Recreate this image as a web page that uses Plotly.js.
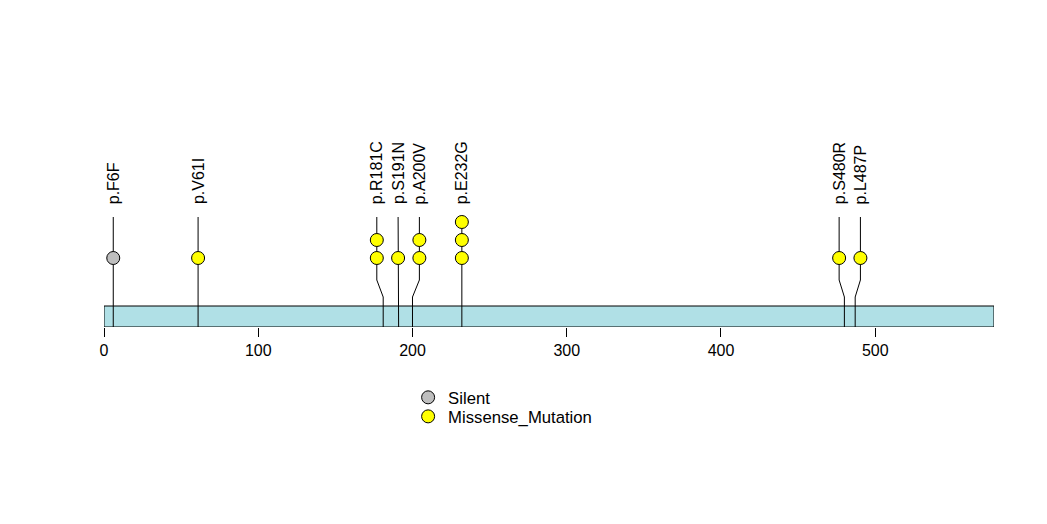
<!DOCTYPE html>
<html><head><meta charset="utf-8">
<script src="https://cdn.plot.ly/plotly-3.0.1.min.js"></script>
<style>html,body{margin:0;padding:0;background:#fff}#chart{width:1047px;height:524px}</style>
</head><body><div id="chart"></div>
<script>
// ---- data ----
const proteinLength = 577;
const mutLabels = ["p.F6F","p.V61I","p.R181C","p.S191N","p.A200V","p.E232G","p.S480R","p.L487P"];
const mutPositions = [6, 61, 181, 191, 200, 232, 480, 487];
const mutCounts = [1, 1, 2, 1, 2, 3, 1, 1];
const mutTypes = ["Silent","Missense_Mutation","Missense_Mutation","Missense_Mutation","Missense_Mutation","Missense_Mutation","Missense_Mutation","Missense_Mutation"];
const legendTypes = ["Silent","Missense_Mutation"];
const tickValues = [0, 100, 200, 300, 400, 500];

// ---- style ----
const typeColors = {Silent:"#BEBEBE", Missense_Mutation:"#FFFF00"};
const barColor = "#B0E0E6";
const geo = {barBottom:-2.833, barTop:-1.667, bendStart:-1.167, bendEnd:-0.222, stemTop:3.278, labelBase:3.889};
const minGap = 13.8;
const FONT = "Liberation Sans, Arial, sans-serif";

// repel label positions
function layoutPositions(pos){
  const idx = pos.map((p,i)=>i).sort((a,b)=>pos[a]-pos[b]);
  let clusters = idx.map(i=>({members:[i], center:pos[i]}));
  let changed = true;
  while(changed){
    changed = false;
    for(let k=0;k<clusters.length-1;k++){
      const a=clusters[k], b=clusters[k+1];
      const aEnd = a.center + (a.members.length-1)*minGap/2;
      const bStart = b.center - (b.members.length-1)*minGap/2;
      if(bStart - aEnd < minGap){
        const m = a.members.concat(b.members);
        const c = m.reduce((s,i)=>s+pos[i],0)/m.length;
        clusters.splice(k,2,{members:m, center:c});
        changed = true; break;
      }
    }
  }
  const out = new Array(pos.length);
  clusters.forEach(c=>{
    const n=c.members.length;
    c.members.forEach((i,j)=>{ out[i] = c.center + (j-(n-1)/2)*minGap; });
  });
  return out;
}
const disp = layoutPositions(mutPositions);

const traces = [];
// stems
mutPositions.forEach((p,i)=>{
  traces.push({type:'scatter', mode:'lines', x:[p,p,disp[i],disp[i]],
    y:[geo.barBottom, geo.bendStart, geo.bendEnd, geo.stemTop],
    line:{color:'#000', width:1}, hoverinfo:'skip', showlegend:false});
});
// heads by type
const legendIds = ['legend','legend2'];
legendTypes.forEach((t,ti)=>{
  const xs=[], ys=[];
  mutPositions.forEach((p,i)=>{
    if(mutTypes[i]!==t) return;
    for(let k=1;k<=mutCounts[i];k++){ xs.push(disp[i]); ys.push(k); }
  });
  traces.push({type:'scatter', mode:'markers', name:t, x:xs, y:ys, legend:legendIds[ti],
    marker:{size:13, color:typeColors[t], line:{color:'#000', width:1}},
    hoverinfo:'skip', showlegend:true, cliponaxis:false});
});

const annotations = mutLabels.map((lab,i)=>({
  x:disp[i], y:geo.labelBase, xref:'x', yref:'y', text:lab, showarrow:false,
  textangle:-90, xanchor:'center', yanchor:'bottom',
  font:{family:FONT, size:16, color:'#000'}
}));

const legendBase = {xanchor:'left', yanchor:'top', orientation:'v',
  font:{family:FONT, size:16.7, color:'#000'}, bgcolor:'rgba(0,0,0,0)', itemsizing:'trace'};

const layout = {
  width:1047, height:524,
  margin:{l:104, r:53, t:0, b:197, pad:0},
  paper_bgcolor:'#fff', plot_bgcolor:'#fff',
  showlegend:true,
  legend:Object.assign({x:0.3417, y:-0.162}, legendBase),
  legend2:Object.assign({x:0.3417, y:-0.2202}, legendBase),
  xaxis:{range:[0, proteinLength], tickvals:tickValues, ticktext:tickValues.map(String),
    ticks:'outside', ticklen:9, tickwidth:1, tickcolor:'#000', showgrid:false, zeroline:false,
    showline:false, tickfont:{family:FONT, size:16, color:'#000'}, fixedrange:true},
  yaxis:{range:[geo.barBottom, 15.333], visible:false, showgrid:false, zeroline:false, fixedrange:true},
  shapes:[{type:'rect', xref:'x', yref:'y', x0:0, x1:proteinLength, y0:geo.barBottom, y1:geo.barTop,
    fillcolor:barColor, line:{color:'#000', width:1}, layer:'below'}],
  annotations:annotations
};
Plotly.newPlot('chart', traces, layout, {displayModeBar:false, staticPlot:true});
</script></body></html>
